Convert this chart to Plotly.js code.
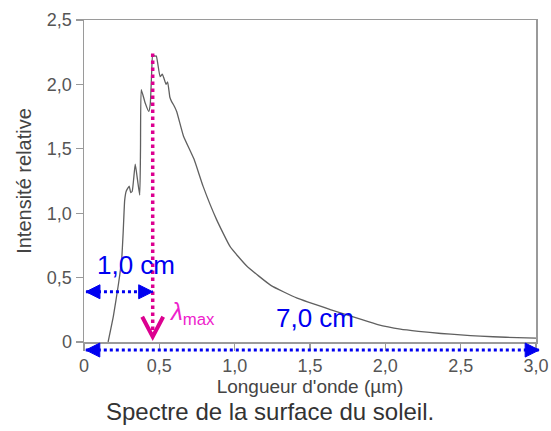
<!DOCTYPE html>
<html>
<head>
<meta charset="utf-8">
<script src="https://cdn.plot.ly/plotly-3.0.1.min.js"></script>
<style>html,body{margin:0;padding:0;background:#fff;}#chart{width:551px;height:431px;}</style>
</head>
<body>
<div id="chart"></div>
<script>
// Spectre solaire (intensité relative vs longueur d'onde en µm)
var wavelength = [0.16,0.195,0.23,0.25,0.26,0.27,0.28,0.30,0.31,0.32,0.34,0.355,0.37,0.375,0.38,0.405,0.43,0.44,0.45,0.456,0.47,0.48,0.505,0.52,0.53,0.545,0.555,0.57,0.58,0.595,0.615,0.66,0.73,0.79,0.88,0.97,1.08,1.24,1.415,1.64,1.84,1.95,2.10,2.22,2.37,2.50,2.63,2.80,3.0];
var intensity  = [0,0.2,0.46,0.64,0.85,1.10,1.17,1.21,1.16,1.17,1.38,1.26,1.14,1.5,1.96,1.86,1.79,1.85,2.12,2.23,2.22,2.22,2.06,2.08,2.05,2.0,2.02,1.90,1.87,1.84,1.79,1.60,1.42,1.21,0.95,0.74,0.59,0.44,0.34,0.25,0.175,0.135,0.10,0.083,0.066,0.055,0.045,0.037,0.03];

var xTickVals = [0,0.5,1.0,1.5,2.0,2.5,3.0];
var xTickText = ["0","0,5","1,0","1,5","2,0","2,5","3,0"];
var yTickVals = [0,0.5,1.0,1.5,2.0,2.5];
var yTickText = ["0","0,5","1,0","1,5","2,0","2,5"];

var lambdaMax = 0.456;     // µm
var lambdaPeak = 2.24;     // top of the dotted line
var shortArrowY = 0.39;
var shortArrowX = [0.013, lambdaMax];

var magenta = '#dc0090';
var blue = '#0000f0';
var FONT = 'Liberation Sans, Arial, sans-serif';

var trace = {
  x: wavelength, y: intensity, type: 'scatter', mode: 'lines',
  line: {color: '#606060', width: 1.3, shape:'spline', smoothing:0.4}, hoverinfo: 'skip'
};

var shapes = [
  {type:'line', xref:'x', yref:'y', x0:lambdaMax, x1:lambdaMax, y0:lambdaPeak, y1:0.05,
   line:{color:magenta, width:3.5, dash:'dot'}},
  {type:'path', xref:'x', yref:'y', xsizemode:'pixel', ysizemode:'pixel', xanchor:lambdaMax, yanchor:0.041,
   path:'M-10.5,20 L0,0 L10.5,20', line:{color:magenta, width:4}},
  {type:'line', xref:'x', yref:'y', x0:shortArrowX[0], x1:shortArrowX[1], y0:shortArrowY, y1:shortArrowY,
   line:{color:blue, width:3, dash:'dot'}},
  {type:'path', xref:'x', yref:'y', xsizemode:'pixel', ysizemode:'pixel', xanchor:shortArrowX[0], yanchor:shortArrowY,
   path:'M0,0 L14,7 L14,-7 Z', fillcolor:blue, line:{color:blue, width:1}},
  {type:'path', xref:'x', yref:'y', xsizemode:'pixel', ysizemode:'pixel', xanchor:shortArrowX[1], yanchor:shortArrowY,
   path:'M0,0 L-14,7 L-14,-7 Z', fillcolor:blue, line:{color:blue, width:1}},
  {type:'line', xref:'x domain', yref:'y domain', x0:0.004, x1:1.007, y0:-0.025, y1:-0.025,
   line:{color:blue, width:3, dash:'dot'}},
  {type:'path', xref:'x domain', yref:'y domain', xsizemode:'pixel', ysizemode:'pixel', xanchor:0.004, yanchor:-0.025,
   path:'M0,0 L14,7 L14,-7 Z', fillcolor:blue, line:{color:blue, width:1}},
  {type:'path', xref:'x domain', yref:'y domain', xsizemode:'pixel', ysizemode:'pixel', xanchor:1.007, yanchor:-0.025,
   path:'M0,0 L-14,7 L-14,-7 Z', fillcolor:blue, line:{color:blue, width:1}}
];

var annotations = [
  {x:0.346, y:0.60, xref:'x', yref:'y', text:'1,0 cm', showarrow:false, yanchor:'middle',
   font:{family:FONT, size:26, color:blue}},
  {x:1.53, y:0.19, xref:'x', yref:'y', text:'7,0 cm', showarrow:false, yanchor:'middle',
   font:{family:FONT, size:26, color:blue}},
  {x:0.715, y:0.225, xref:'x', yref:'y', text:'<i>λ</i><sub>max</sub>', showarrow:false, yanchor:'middle',
   font:{family:FONT, size:24, color:'#ee22cc'}},
  {x:0.412, y:-0.217, xref:'paper', yref:'paper', text:'Spectre de la surface du soleil.', showarrow:false,
   yanchor:'middle', font:{family:FONT, size:24, color:'#333'}}
];

var axisCommon = {
  showgrid:false, zeroline:false, showline:true, mirror:true,
  linecolor:'#9a9a9a', linewidth:1.5,
  ticks:'outside', ticklen:7, tickwidth:1.2, tickcolor:'#9a9a9a',
  tickfont:{family:FONT, size:18, color:'#555'},
  fixedrange:true
};

var layout = {
  width:551, height:431,
  margin:{l:84, r:15, t:20, b:89},
  paper_bgcolor:'#fff', plot_bgcolor:'#fff',
  showlegend:false,
  xaxis:Object.assign({}, axisCommon, {
    range:[0,3], tickvals:xTickVals, ticktext:xTickText,
    title:{text:"Longueur d'onde (µm)", standoff:2,
           font:{family:FONT, size:19, color:'#444'}}
  }),
  yaxis:Object.assign({}, axisCommon, {
    range:[0,2.5], tickvals:yTickVals, ticktext:yTickText,
    title:{text:'Intensité relative', standoff:10,
           font:{family:FONT, size:20, color:'#444'}}
  }),
  shapes:shapes,
  annotations:annotations
};

Plotly.newPlot('chart', [trace], layout, {displayModeBar:false, staticPlot:true});
</script>
</body>
</html>
